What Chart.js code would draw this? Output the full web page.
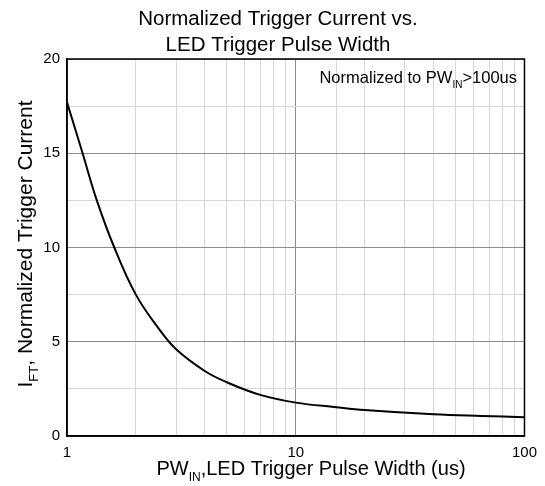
<!DOCTYPE html>
<html>
<head>
<meta charset="utf-8">
<script src="https://cdn.jsdelivr.net/npm/chart.js@4/dist/chart.umd.min.js"></script>
<style>
  body { margin: 0; background: #fff; }
  canvas { display: block; }
</style>
</head>
<body>
<canvas id="myChart" width="545" height="486"></canvas>
<script>
// pulse width (us) and normalized trigger current
const pulseWidth = [1, 1.17, 1.35, 1.61, 2, 2.5, 3, 4, 5, 7, 10, 15, 20, 40, 65, 100];
const triggerCurrent = [17.7, 15, 12.5, 10, 7.5, 5.75, 4.6, 3.45, 2.85, 2.18, 1.77, 1.53, 1.38, 1.15, 1.06, 1.0];
const xTickLabels = [1, 10, 100];
const yTickLabels = [0, 5, 10, 15, 20];

const FONT = "'Liberation Sans', Arial, sans-serif";

// draws text made of normal and subscript pieces
function drawParts(ctx, parts, x, y, align, size) {
    const subSize = Math.round(size * 0.6);
    let total = 0;
    parts.forEach(p => {
        ctx.font = (p.sub ? subSize : size) + 'px ' + FONT;
        p.w = ctx.measureText(p.t).width;
        total += p.w;
    });
    let cx = align === 'center' ? x - total / 2 : (align === 'right' ? x - total : x);
    ctx.textAlign = 'left';
    ctx.textBaseline = 'alphabetic';
    parts.forEach(p => {
        ctx.font = (p.sub ? subSize : size) + 'px ' + FONT;
        ctx.fillText(p.t, cx, p.sub ? y + size * 0.28 : y);
        cx += p.w;
    });
}

const textPlugin = {
    id: 'textPlugin',
    afterDraw(chart) {
        const ctx = chart.ctx;
        const a = chart.chartArea;
        ctx.save();
        // frame
        ctx.strokeStyle = '#000';
        ctx.lineWidth = 1.5;
        ctx.strokeRect(a.left, a.top, a.right - a.left, a.bottom - a.top);
        ctx.fillStyle = '#000';
        // title
        drawParts(ctx, [{t: 'Normalized Trigger Current vs.'}], 278, 25, 'center', 20.5);
        drawParts(ctx, [{t: 'LED Trigger Pulse Width'}], 278, 51, 'center', 20.5);
        // note
        drawParts(ctx, [{t: 'Normalized to PW'}, {t: 'IN', sub: true}, {t: '>100us'}], 517, 83, 'right', 16.5);
        // x title
        drawParts(ctx, [{t: 'PW'}, {t: 'IN', sub: true}, {t: ',LED Trigger Pulse Width (us)'}], 311, 475, 'center', 20);
        // y title
        ctx.translate(32, 244);
        ctx.rotate(-Math.PI / 2);
        drawParts(ctx, [{t: 'I'}, {t: 'FT', sub: true}, {t: ', Normalized Trigger Current'}], 0, 0, 'center', 21);
        ctx.restore();
    }
};

const ctx = document.getElementById('myChart').getContext('2d');
const chart = new Chart(ctx, {
    type: 'line',
    data: {
        datasets: [{
            data: pulseWidth.map((v, i) => ({x: v, y: triggerCurrent[i]})),
            borderColor: '#000',
            borderWidth: 2,
            pointRadius: 0,
            tension: 0.4,
            fill: false
        }]
    },
    plugins: [textPlugin],
    options: {
        responsive: false,
        animation: false,
        layout: { padding: { top: 59, right: 19, left: 0, bottom: 0 } },
        plugins: {
            legend: { display: false },
            title: { display: false },
            tooltip: { enabled: false }
        },
        scales: {
            x: {
                type: 'logarithmic',
                min: 1,
                max: 100,
                afterFit(scale) { scale.height = 50; },
                border: { display: true, color: '#000', width: 1.5 },
                grid: {
                    drawTicks: false,
                    color: c => (c.tick && (c.tick.value === 10) ? '#8c8c8c' : '#d6d6d6'),
                    lineWidth: 1
                },
                ticks: {
                    autoSkip: false,
                    maxRotation: 0,
                    padding: 8,
                    color: '#000',
                    font: { family: FONT, size: 15 },
                    callback: v => (xTickLabels.includes(v) ? String(v) : '')
                }
            },
            y: {
                min: 0,
                max: 20,
                afterFit(scale) { scale.width = 67; },
                border: { display: true, color: '#000', width: 1.5 },
                grid: {
                    drawTicks: false,
                    color: c => (c.tick && c.tick.value % 5 === 0 ? '#8c8c8c' : '#d6d6d6'),
                    lineWidth: 1
                },
                ticks: {
                    stepSize: 2.5,
                    padding: 7,
                    color: '#000',
                    font: { family: FONT, size: 15 },
                    callback: v => (yTickLabels.includes(v) ? String(v) : '')
                }
            }
        }
    }
});
</script>
</body>
</html>
